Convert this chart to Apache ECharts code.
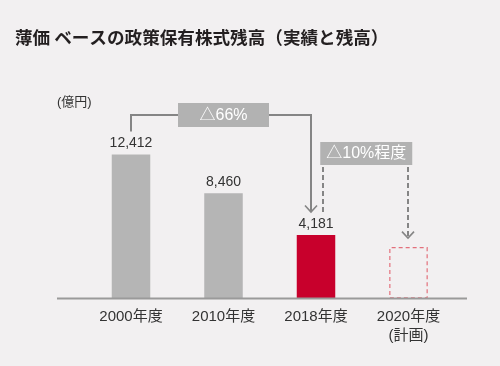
<!DOCTYPE html>
<html><head><meta charset="utf-8">
<script src="https://cdn.jsdelivr.net/npm/echarts@6/dist/echarts.min.js"></script>
<style>html,body{margin:0;padding:0;background:#f2f0f1}#c{width:500px;height:366px}</style>
</head><body><div id="c"></div>
<script>
const titleText = '薄価 ベースの政策保有株式残高（実績と残高）';
const unitText = '(億円)';
const categories = ['2000年度', '2010年度', '2018年度', '2020年度\n(計画)'];
const actualValues = [12412, 8460, 4181, null];
const planValues = [null, null, null, 2950];
const annotationLabels = ['△66%', '△10%程度'];
const axisMin = -2300;
const axisMax = 16000;

const FONT = "'Liberation Sans', 'Noto Sans CJK JP', sans-serif";
const GRAY = '#b5b5b5', RED = '#c8002c', LINE = '#858585', BOX = '#b2b2b2';

const chart = echarts.init(document.getElementById('c'), null, {renderer: 'canvas'});
const gridTop = 119.3, gridBottom = 67.5;
chart.setOption({
  backgroundColor: '#f2f0f1',
  animation: false,
  title: {
    text: titleText, left: 15, top: 28.5, padding: 0,
    textStyle: {fontSize: 17.6, fontWeight: 'bold', color: '#231f20', fontFamily: "'Noto Sans CJK JP', sans-serif"}
  },
  grid: {left: 84.75, right: 45.25, top: gridTop, bottom: gridBottom},
  xAxis: {
    type: 'category', data: categories,
    axisLine: {show: false}, axisTick: {show: false},
    axisLabel: {margin: 9, fontSize: 15, lineHeight: 19, color: '#333', fontFamily: FONT}
  },
  yAxis: {
    type: 'value', min: axisMin, max: axisMax, startValue: axisMin, show: false,
    splitLine: {show: false}
  },
  series: [
    {
      type: 'bar', barWidth: 38.5, barGap: '-100%',
      data: actualValues.map((v, i) => ({value: v, itemStyle: {color: i === 2 ? RED : GRAY}})),
      label: {show: true, position: 'top', distance: 4, fontSize: 14, color: '#333', fontFamily: FONT,
        formatter: p => p.value.toLocaleString('en-US')}
    },
    {
      type: 'bar', barWidth: 38.5, barGap: '-100%',
      data: planValues,
      itemStyle: {color: 'rgba(0,0,0,0)', borderColor: '#e3707c', borderWidth: 1.2, borderType: [4, 3]}
    }
  ]
});

function px(i, v) { return chart.convertToPixel({xAxisIndex: 0, yAxisIndex: 0}, [i, v]); }
const base = px(0, axisMin)[1];
const c = categories.map((_, i) => px(i, 0)[0]);
const top0 = px(0, actualValues[0])[1];
const top2 = px(2, actualValues[2])[1];
const top3 = px(3, planValues[3])[1];

const bracketY = 115;
const arrow1Y = top2 - 23;
const arrow2Y = top3 - 9;
const box2 = {cx: (c[2] + c[3]) / 2 + 4, cy: 153.5, w: 92, h: 23};
const box1 = {cx: c[1], cy: bracketY, w: 91, h: 24};
const bx = c[2] - 5;
const dl = c[2] + 7, dr = c[3] - 0.5;

function chevron(x, y, color, w) {
  return {type: 'polyline', shape: {points: [[x - 6, y - 6.5], [x, y], [x + 6, y - 6.5]]},
    style: {stroke: color, lineWidth: w, fill: null}, z: 10};
}
function box(b, text) {
  return [
    {type: 'rect', shape: {x: b.cx - b.w / 2, y: b.cy - b.h / 2, width: b.w, height: b.h},
      style: {fill: BOX}, z: 11},
    {type: 'text', x: b.cx, y: b.cy + 0.5, style: {text: text, fill: '#fff', fontSize: 16, fontFamily: FONT,
      align: 'center', verticalAlign: 'middle'}, z: 12}
  ];
}

chart.setOption({
  graphic: [
    {type: 'line', shape: {x1: 57, y1: base, x2: 467, y2: base}, style: {stroke: '#9a9a9a', lineWidth: 2}, z: 5},
    {type: 'text', x: 57, y: 102, style: {text: unitText, fill: '#333', fontSize: 13, fontFamily: FONT, verticalAlign: 'middle'}},
    {type: 'polyline', shape: {points: [[c[0], top0 - 23], [c[0], bracketY], [bx, bracketY], [bx, arrow1Y]]},
      style: {stroke: LINE, lineWidth: 2, fill: null}, z: 10},
    chevron(bx, arrow1Y, LINE, 1.6),
    ...box(box1, annotationLabels[0]),
    {type: 'line', shape: {x1: dl, y1: box2.cy + box2.h / 2 + 2, x2: dl, y2: arrow1Y},
      style: {stroke: LINE, lineWidth: 2, lineDash: [5, 3]}, z: 10},
    {type: 'line', shape: {x1: dr, y1: box2.cy + box2.h / 2 + 2, x2: dr, y2: arrow2Y},
      style: {stroke: LINE, lineWidth: 2, lineDash: [5, 3]}, z: 10},
    chevron(dr, arrow2Y, LINE, 1.6),
    ...box(box2, annotationLabels[1])
  ]
});
</script></body></html>
